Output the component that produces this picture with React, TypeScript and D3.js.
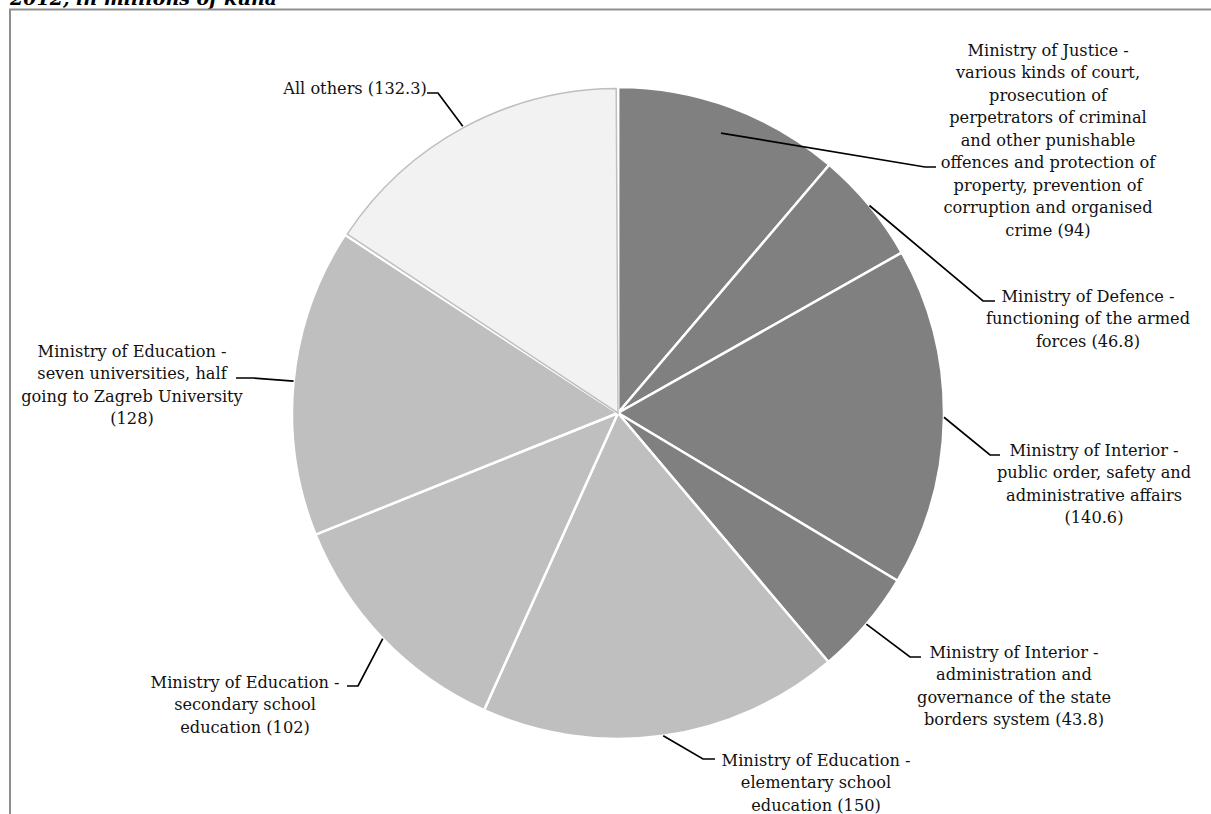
import React, { useEffect, useRef } from 'react';
import * as d3 from 'd3';

// slices clockwise from 12 o'clock, millions of kuna
const categories = [
  'Ministry of Justice',
  'Ministry of Defence',
  'Ministry of Interior (public order)',
  'Ministry of Interior (borders)',
  'Ministry of Education (elementary)',
  'Ministry of Education (secondary)',
  'Ministry of Education (universities)',
  'All others',
];
const values = [94, 46.8, 140.6, 43.8, 150, 102, 128, 132.3];
const groups = ['other-min', 'other-min', 'other-min', 'other-min', 'edu', 'edu', 'edu', 'rest'];

const labelLines = [
  ['Ministry of Justice -', 'various kinds of court,', 'prosecution of', 'perpetrators of criminal', 'and other punishable', 'offences and protection of', 'property, prevention of', 'corruption and organised', 'crime (94)'],
  ['Ministry of Defence -', 'functioning of the armed', 'forces (46.8)'],
  ['Ministry of Interior -', 'public order, safety and', 'administrative affairs', '(140.6)'],
  ['Ministry of Interior -', 'administration and', 'governance of the state', 'borders system (43.8)'],
  ['Ministry of Education -', 'elementary school', 'education (150)'],
  ['Ministry of Education -', 'secondary school', 'education (102)'],
  ['Ministry of Education -', 'seven universities, half', 'going to Zagreb University', '(128)'],
  ['All others (132.3)'],
];

const title = '2012, in millions of kuna';

const App = () => {
  const ref = useRef(null);

  useEffect(() => {
    const W = 1211, H = 814;
    const svg = d3.select(ref.current).attr('width', W).attr('height', H);
    svg.selectAll('*').remove();

    const cx = 618, cy = 413, r = 326;
    const font = '"DejaVu Serif", Georgia, serif';

    const color = d3.scaleOrdinal()
      .domain(['other-min', 'edu', 'rest'])
      .range(['#808080', '#bfbfbf', '#f2f2f2']);

    // title is cut off at the top edge, as in the source
    svg.append('text')
      .attr('x', 10).attr('y', 5)
      .style('font-family', font)
      .style('font-weight', 'bold')
      .style('font-style', 'italic')
      .style('font-size', '19px')
      .text(title);

    svg.append('rect')
      .attr('x', 10).attr('y', 9.5)
      .attr('width', 1400).attr('height', 1000)
      .attr('fill', 'none')
      .attr('stroke', '#8f8f8f')
      .attr('stroke-width', 2);

    const pie = d3.pie().sort(null).value(d => d);
    const arcs = pie(values);
    const arc = d3.arc().innerRadius(0).outerRadius(r);

    const g = svg.append('g').attr('transform', `translate(${cx},${cy})`);

    g.selectAll('path.slice')
      .data(arcs)
      .enter().append('path')
      .attr('class', 'slice')
      .attr('d', arc)
      .attr('fill', (d, i) => color(groups[i]))
      .attr('stroke', '#ffffff')
      .attr('stroke-width', 2.5)
      .attr('stroke-linejoin', 'round');

    // grey inner outline of the "All others" slice
    const inner = d3.arc().innerRadius(0).outerRadius(r - 1.5).padAngle(0.011).padRadius(r);
    g.append('path')
      .attr('d', inner(arcs[7]))
      .attr('fill', 'none')
      .attr('stroke', '#bfbfbf')
      .attr('stroke-width', 1.5);

    // label layout: start radius factor, elbow, end of leader, text centre x, first line y
    const layout = [
      { rf: 0.915, elbow: [925, 167], end: [936, 167], tx: 1048, ty: 50 },
      { rf: 1.0, elbow: [983, 301], end: [995, 301], tx: 1088, ty: 296 },
      { rf: 1.0, elbow: [990, 455], end: [1000, 455], tx: 1094, ty: 450 },
      { rf: 1.0, elbow: [910, 657], end: [921, 657], tx: 1014, ty: 652 },
      { rf: 1.0, elbow: [703, 759], end: [715, 759], tx: 816, ty: 760 },
      { rf: 1.0, elbow: [358, 686], end: [347, 686], tx: 245, ty: 682 },
      { rf: 1.0, elbow: [253, 378], end: [236, 378], tx: 132, ty: 351 },
      { rf: 1.0, elbow: [438, 93], end: [427, 93], tx: 355, ty: 88 },
    ];
    const lh = 22.5;

    arcs.forEach((a, i) => {
      const L = layout[i];
      const mid = (a.startAngle + a.endAngle) / 2;
      const sx = cx + Math.sin(mid) * r * L.rf;
      const sy = cy - Math.cos(mid) * r * L.rf;
      svg.append('path')
        .attr('d', d3.line()([[sx, sy], L.elbow, L.end]))
        .attr('fill', 'none')
        .attr('stroke', '#000')
        .attr('stroke-width', 1.7);

      const t = svg.append('text')
        .attr('text-anchor', 'middle')
        .style('font-family', font)
        .style('font-size', '16.2px')
        .style('fill', '#111');
      labelLines[i].forEach((line, j) => {
        t.append('tspan')
          .attr('x', L.tx)
          .attr('y', L.ty + j * lh)
          .attr('dy', '0.35em')
          .text(line);
      });
    });
  }, []);

  return (
    <svg
      ref={ref}
      style={{ position: 'absolute', left: 0, top: 0, background: '#ffffff', display: 'block' }}
    ></svg>
  );
};

export default App;
